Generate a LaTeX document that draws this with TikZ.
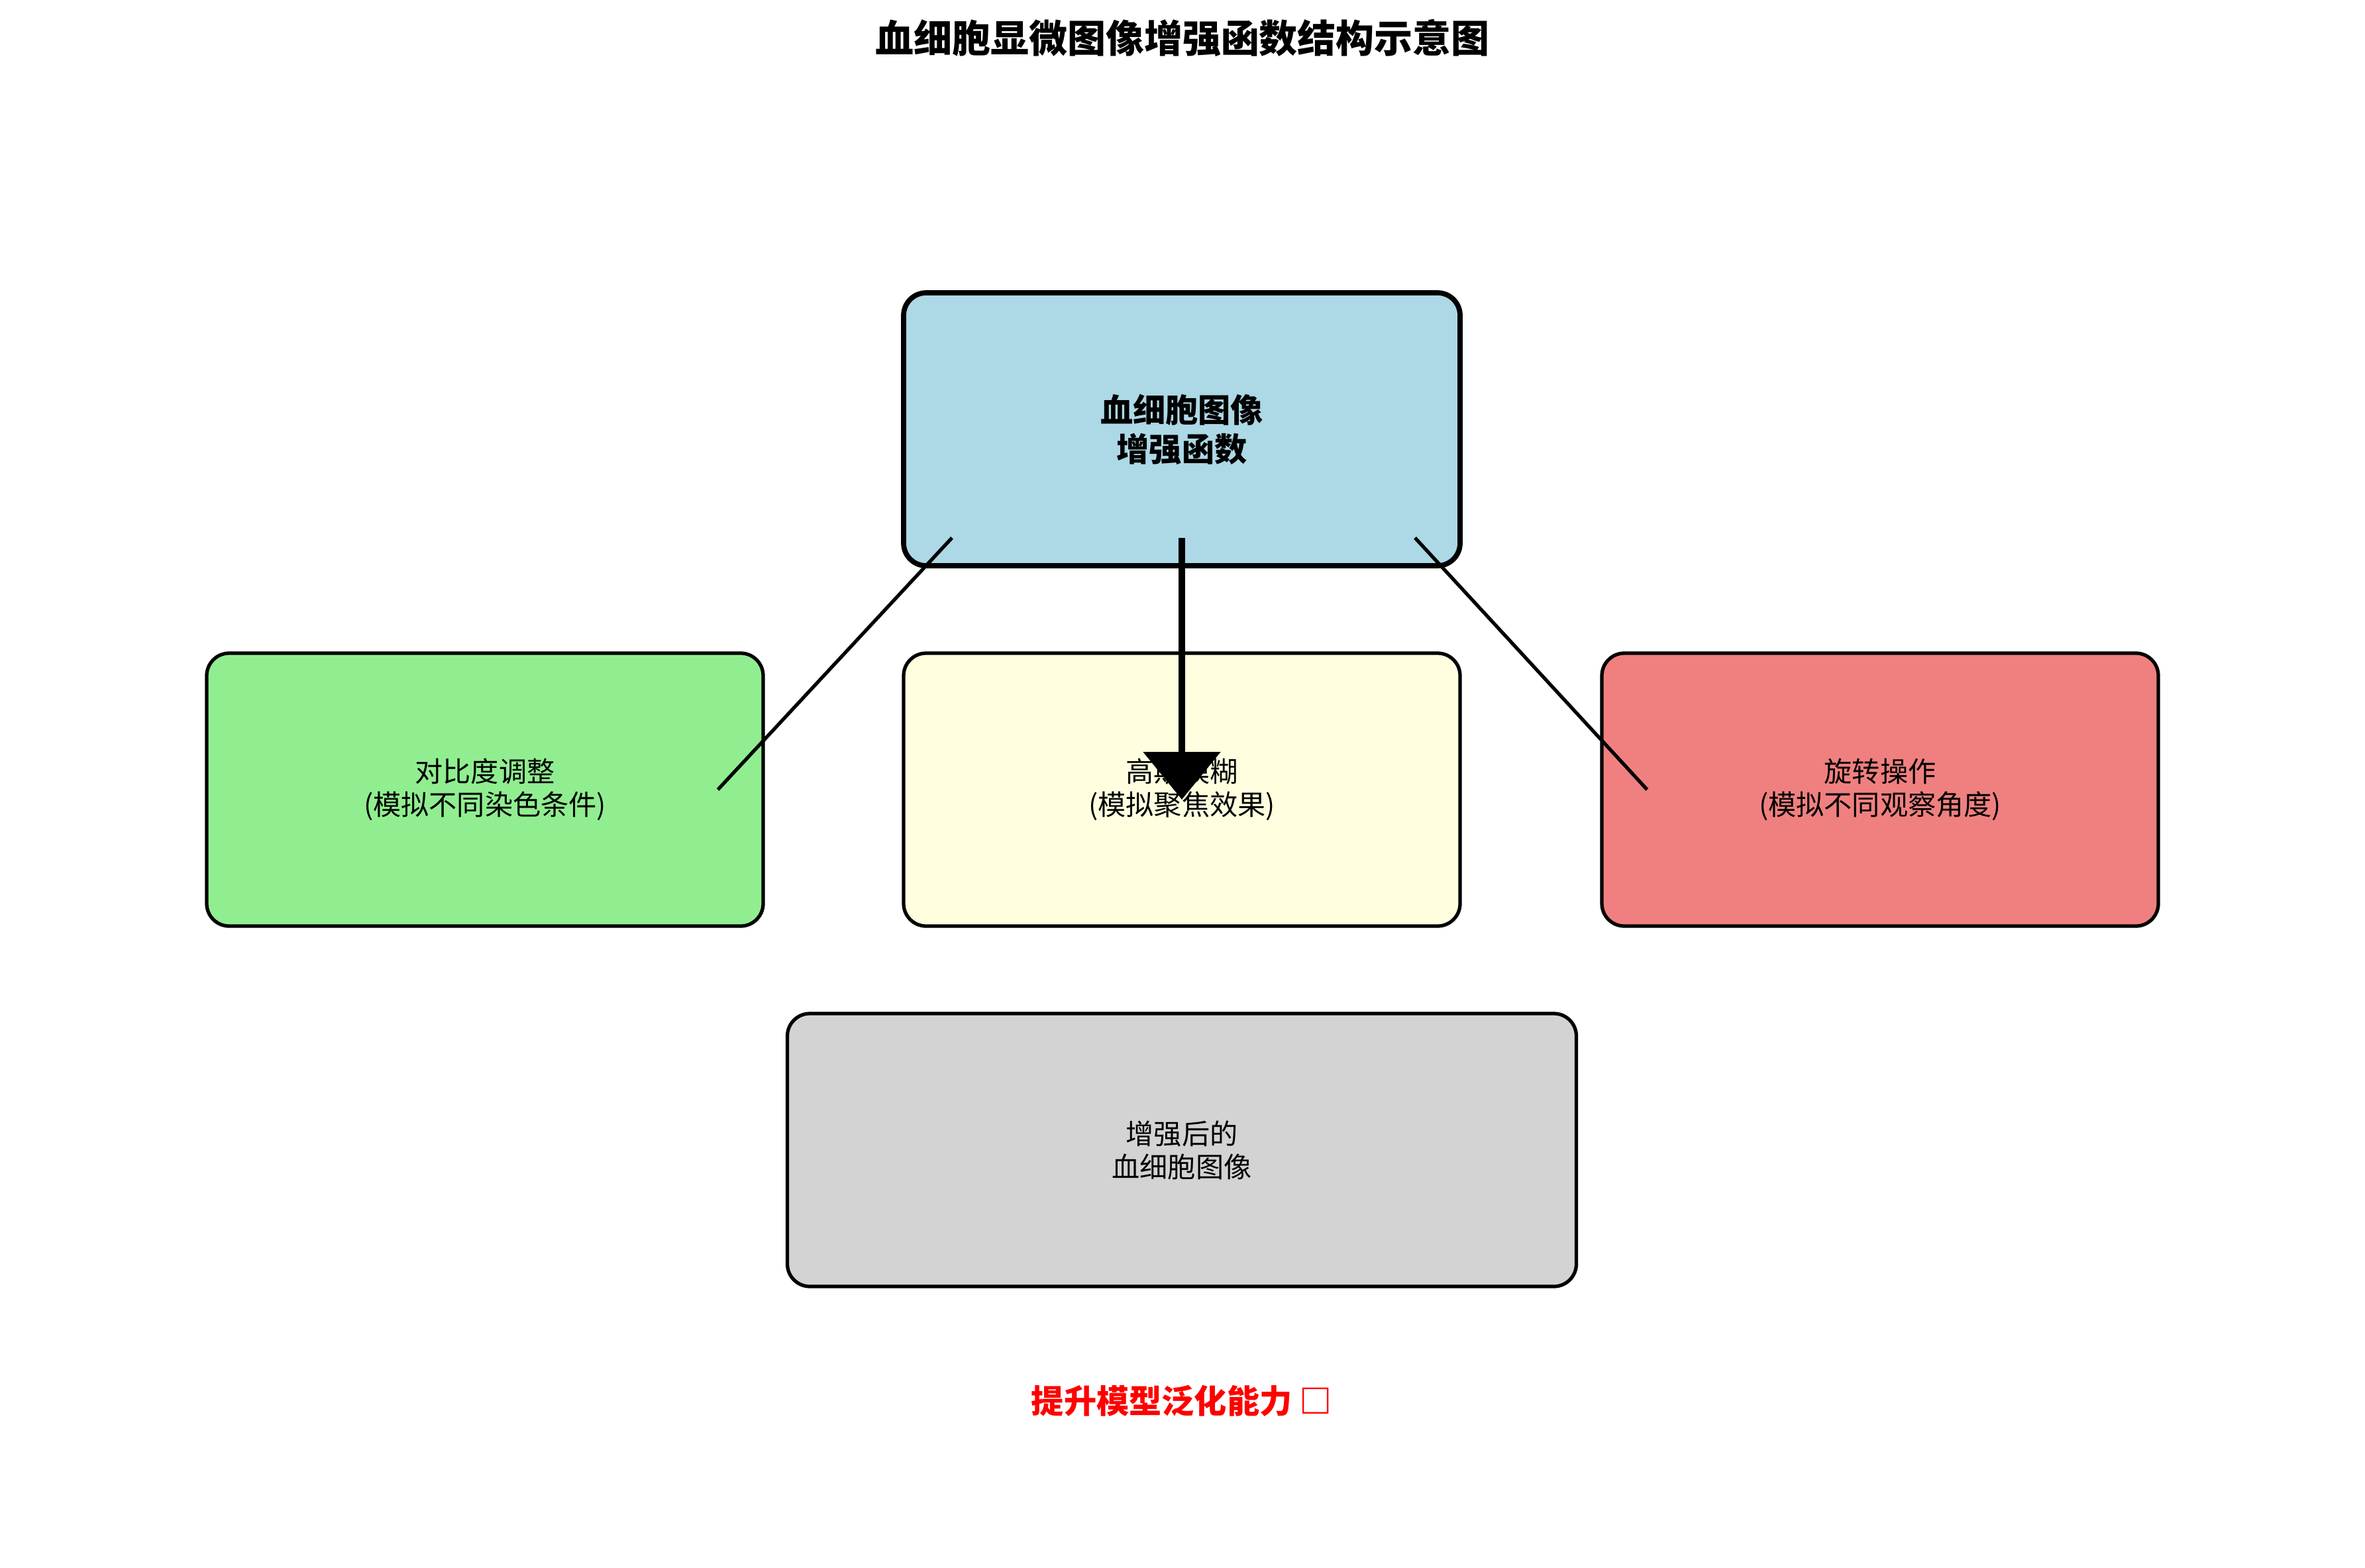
\documentclass[tikz,border=0pt]{standalone}
\usepackage{fontspec}
\setmainfont{Noto Sans CJK SC}
\usepackage{xcolor}
\usepackage{tikz}
\usetikzlibrary{arrows.meta, calc, positioning}

\definecolor{cFunc}{HTML}{ADD8E6}
\definecolor{cContrast}{HTML}{90EE90}
\definecolor{cBlur}{HTML}{FFFFE0}
\definecolor{cRot}{HTML}{F08080}
\definecolor{cOut}{HTML}{D3D3D3}

\begin{document}
\begin{tikzpicture}[every node/.style={align=center},
  stagebox/.style={draw, line width=1.5pt, rounded corners=0.34cm, minimum width=8.4cm, minimum height=4.12cm, inner sep=0pt,
    font=\fontsize{12}{14.2}\selectfont},
  link/.style={line width=1.5pt}]
\useasboundingbox (0,0) rectangle (35.70,-23.67);
\node[font=\bfseries\fontsize{16.5}{19}\selectfont] (nTitle) at (17.85,-0.57) {血细胞显微图像增强函数结构示意图};
\node[stagebox, fill=cFunc, line width=2.2pt, font=\bfseries\fontsize{14}{16.8}\selectfont] (nFunc) at (17.84,-6.48) {血细胞图像\\增强函数};
\node[stagebox, fill=cContrast] (nContrast) at (7.32,-11.92) {对比度调整\\(模拟不同染色条件)};
\node[stagebox, fill=cBlur] (nBlur) at (17.84,-11.92) {高斯模糊\\(模拟聚焦效果)};
\node[stagebox, fill=cRot] (nRot) at (28.38,-11.92) {旋转操作\\(模拟不同观察角度)};
\node[stagebox, fill=cOut, minimum width=11.91cm] (nOut) at (17.84,-17.36) {增强后的\\血细胞图像};
\node[text=red, font=\bfseries\fontsize{14}{16.8}\selectfont] (nGain) at (17.84,-21.15) {提升模型泛化能力 □};
% branch ends
\coordinate (fL) at ($(nFunc.south)+(-3.47,0.46)$);
\coordinate (fM) at ($(nFunc.south)+(0,0.46)$);
\coordinate (fR) at ($(nFunc.south)+(3.52,0.46)$);
\coordinate (tL) at ($(nContrast.east)+(-0.71,0)$);
\coordinate (tM) at ($(nBlur.center)+(0,-0.15)$);
\coordinate (tR) at ($(nRot.west)+(0.71,0)$);
\draw[link] (fL) -- (tL);
\draw[link, line width=2.8pt, -{Triangle[width=1.15cm, length=0.72cm]}] (fM) -- (tM);
\draw[link] (fR) -- (tR);
\end{tikzpicture}
\end{document}
